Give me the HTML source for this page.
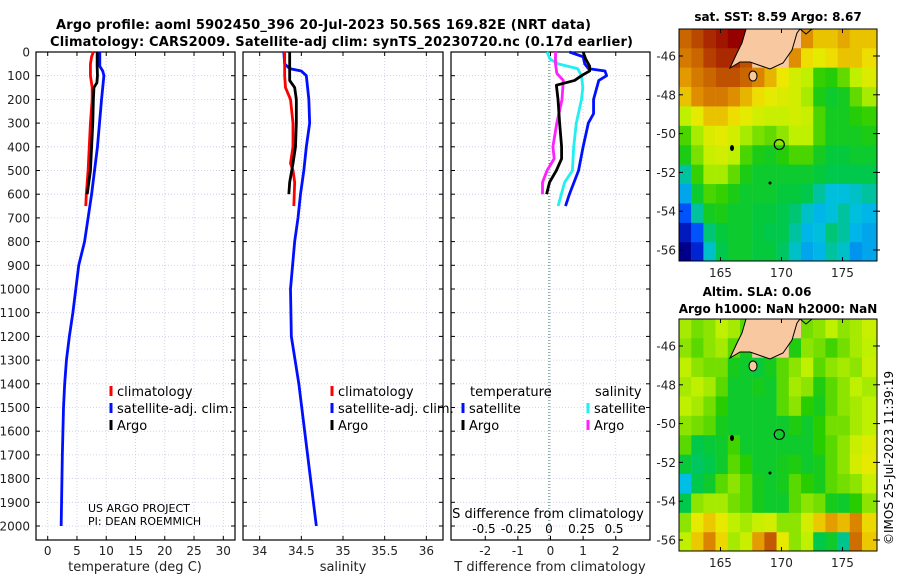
<!DOCTYPE html>
<html><head><meta charset="utf-8"><style>
body{margin:0;background:#fff}
svg{display:block;font-family:"DejaVu Sans","Liberation Sans",sans-serif}
</style></head><body>
<svg id="fig" width="900" height="580" viewBox="0 0 900 580" xmlns="http://www.w3.org/2000/svg">
<rect width="900" height="580" fill="#fff"/>
<text x="56" y="29" font-size="13" font-weight="bold" textLength="535">Argo profile: aoml 5902450_396 20-Jul-2023 50.56S 169.82E (NRT data)</text>
<text x="50" y="46" font-size="13" font-weight="bold" textLength="583">Climatology: CARS2009. Satellite-adj clim: synTS_20230720.nc (0.17d earlier)</text>
<g id="g1"></g>
<g id="g2"></g>
<g id="g3"></g>
<g id="m1"></g>
<g id="m2"></g>
<text x="778" y="21" font-size="12" font-weight="bold" text-anchor="middle">sat. SST: 8.59 Argo: 8.67</text>
<text x="757" y="296" font-size="12" font-weight="bold" text-anchor="middle">Altim. SLA: 0.06</text>
<text x="778" y="313" font-size="12" font-weight="bold" text-anchor="middle">Argo h1000: NaN h2000: NaN</text>
<text transform="translate(893,545) rotate(-90)" font-size="12">©IMOS 25-Jul-2023 11:39:19</text>
</svg>
<script>
// ---------- profile data ----------
const climTdepth=[0,20,50,100,150,200,300,400,500,600,650];
const climT=[7.8,7.5,7.3,7.3,7.6,7.6,7.3,7.1,6.9,6.6,6.5];
const argoTdepth=[0,60,100,130,150,200,300,400,500,600];
const argoT=[8.45,8.45,8.5,8.4,7.9,7.8,7.7,7.5,7.3,6.75];
const satTdepth=[0,60,80,100,200,400,600,700,800,900,1000,1100,1200,1300,1400,1500,1700,2000];
const satT=[8.9,8.9,9.4,9.6,9.2,8.5,7.5,6.9,6.3,5.3,4.8,4.3,3.7,3.2,2.9,2.7,2.5,2.3];
const climSdepth=[0,100,150,200,300,400,470,500,550,650];
const climS=[34.30,34.30,34.31,34.37,34.40,34.40,34.37,34.40,34.42,34.41];
const argoSdepth=[0,100,120,150,200,300,400,470,550,600];
const argoS=[34.36,34.36,34.36,34.42,34.44,34.44,34.43,34.40,34.36,34.35];
const satSdepth=[0,50,70,80,100,200,300,400,500,600,700,800,1000,1200,1400,1600,1800,2000];
const satS=[34.29,34.30,34.36,34.50,34.56,34.59,34.60,34.56,34.53,34.49,34.46,34.42,34.37,34.38,34.47,34.54,34.61,34.68];
const dTsatDepth=[0,20,50,70,80,100,120,200,260,300,400,500,600,650];
const dTsat=[0.58,1.0,1.05,1.16,1.67,1.72,1.48,1.32,1.32,1.16,1.0,0.86,0.58,0.46];
const dTargoDepth=[0,30,60,80,100,120,140,200,300,400,450,500,550,600];
const dTargo=[1.0,1.08,1.2,1.2,0.95,0.74,0.18,0.23,0.28,0.34,0.34,0.18,-0.03,-0.12];
const dSsatDepth=[0,30,50,70,100,150,200,300,400,500,550,650];
const dSsat=[-0.015,0.008,0.07,0.22,0.25,0.26,0.25,0.21,0.19,0.18,0.12,0.07];
const dSargoDepth=[0,50,90,120,200,300,400,450,500,550,600];
const dSargo=[0.05,0.05,0.06,0.11,0.10,0.06,0.03,0.04,-0.015,-0.05,-0.05];
const depthTicks=[0,100,200,300,400,500,600,700,800,900,1000,1100,1200,1300,1400,1500,1600,1700,1800,1900,2000];
const tTicks=[0,5,10,15,20,25,30];
const sTicks=[34,34.5,35,35.5,36];
const sTickLabels=["34","34.5","35","35.5","36"];
const dTTicks=[-2,-1,0,1,2];
const dSTicks=[-0.5,-0.25,0,0.25,0.5];
const dSTickLabels=["-0.5","-0.25","0","0.25","0.5"];
// ---------- map data ----------
const mapLons=[161.6,162.6,163.6,164.6,165.6,166.6,167.6,168.6,169.6,170.6,171.6,172.6,173.6,174.6,175.6,176.6];
const mapLats=[-44.6,-45.6,-46.6,-47.6,-48.6,-49.6,-50.6,-51.6,-52.6,-53.6,-54.6,-55.6];
const sst=[
[11,11.3,11.6,11.8,12,12,null,null,null,null,10.6,10.2,10.2,10.4,10.2,10.2],
[10.8,11,11.4,11.6,11.6,11.2,null,null,null,10.6,10,9.8,10,10.2,10.2,10],
[10.5,10.8,11,11.2,11.2,11,10.7,10.3,9.9,9.6,9.4,8.8,8.7,9,9.4,9.7],
[10.2,10.6,10.8,10.8,10.6,10.3,10,9.8,9.7,9.6,9.3,8.6,8.4,8.5,9,9.3],
[9.4,9.8,10.2,10.2,10,9.8,9.6,9.5,9.5,9.6,9.5,8.9,8.5,8.5,8.7,8.8],
[8.9,9.3,9.7,9.8,9.6,9.3,9.1,9,9.2,9.4,9.4,8.9,8.5,8.5,8.5,8.6],
[8.6,9.1,9.5,9.6,9.4,8.9,8.6,8.5,8.7,8.9,8.9,8.5,8.3,8.3,8.4,8.4],
[7.8,8.8,9.3,9.3,9,8.6,8.4,8.4,8.4,8.4,8.4,8.3,8.2,8.2,8.2,8.2],
[7.3,8.4,8.9,8.8,8.6,8.4,8.4,8.4,8.3,8.3,8.2,7.8,7.5,7.5,7.6,7.8],
[6.8,7.8,8.5,8.6,8.4,8.4,8.3,8.3,8.2,8,7.6,7.4,7.5,7.8,7.5,7.4],
[6,6.8,8,8.3,8.4,8.4,8.3,8.2,8.2,7.8,7.4,7.5,8,7.8,7.4,7.3],
[5.5,6.2,7.6,8.2,8.4,8.4,8.3,8.3,8.1,7.6,7.3,7.4,7.8,7.6,7.2,7.3]];
const sla=[
[.05,.03,.04,.06,.05,.02,null,null,null,null,.03,.04,.06,.04,.05,.07],
[.04,.02,.04,.05,.02,-.02,null,null,null,-.01,.04,.03,.01,.03,.05,.06],
[.06,.04,.03,.03,-.02,-.03,-.04,-.02,.02,.04,.06,.02,.04,.05,.04,.07],
[.05,.06,.05,.02,-.03,-.03,-.02,-.03,.02,.05,.04,-.01,.02,.04,.06,.05],
[.06,.05,.03,0,-.03,-.03,-.03,-.03,.02,.04,0,-.02,.02,.04,.05,.06],
[.04,.03,.02,-.02,-.03,-.03,-.03,-.03,-.03,-.01,-.03,0,.03,.03,.05,.06],
[.02,-.05,-.04,-.03,.01,-.03,-.03,-.03,-.03,-.03,-.03,0,.02,.04,.07,.09],
[-.04,-.06,-.05,-.03,.02,0,-.03,-.03,-.02,-.01,-.03,-.02,.02,.04,.08,.1],
[-.12,-.05,-.03,.02,.04,.02,-.02,-.03,-.02,.02,0,-.02,.02,.03,.04,.07],
[-.05,.04,.05,.05,.03,.02,-.02,-.03,-.03,.02,.04,.03,-.02,-.03,0,.04],
[.04,.1,.13,.1,.06,.05,.07,.08,.04,.04,.08,.13,.16,.14,.18,.12],
[.06,.13,.18,.12,.05,.07,.16,.22,.1,.04,.06,-.05,-.03,-.08,.2,.13]];
const lonTicks=[165,170,175];
const latTicks=[-46,-48,-50,-52,-54,-56];
const argoLon=169.82, argoLat=-50.56;

const NS="http://www.w3.org/2000/svg";
function mk(tag,attrs,parent,txt){const e=document.createElementNS(NS,tag);for(const k in attrs)e.setAttribute(k,attrs[k]);if(txt!==undefined)e.textContent=txt;parent.appendChild(e);return e;}

const Y0=52, DY=0.237;
const yD=d=>Y0+d*DY;
const PT=52, PB=540;

function panel(g,x0,x1,xmin,xmax,ticks,labels){
  const xs=v=>x0+(v-xmin)/(xmax-xmin)*(x1-x0);
  depthTicks.forEach(d=>{const l=mk('line',{x1:x0,x2:x1,y1:yD(d),y2:yD(d),stroke:'#c8c8e8','stroke-width':0.8,'stroke-dasharray':'1,2'},g);
    
    });
  ticks.forEach((v,i)=>{const l=mk('line',{x1:xs(v),x2:xs(v),y1:PT,y2:PB,stroke:'#c8c8e8','stroke-width':0.8,'stroke-dasharray':'1,2'},g);
    
    
    const t=mk('text',{x:xs(v),y:555,'font-size':12,'text-anchor':'middle',fill:'#222'},g,labels[i]);
    
    
    mk('line',{x1:xs(v),x2:xs(v),y1:PB,y2:PB-4,stroke:'#000'},g);
    mk('line',{x1:xs(v),x2:xs(v),y1:PT,y2:PT+4,stroke:'#000'},g);
  });
  depthTicks.forEach(d=>{mk('line',{x1:x0,x2:x0+4,y1:yD(d),y2:yD(d),stroke:'#000'},g);mk('line',{x1:x1-4,x2:x1,y1:yD(d),y2:yD(d),stroke:'#000'},g);});
  const r=mk('rect',{x:x0,y:PT,width:x1-x0,height:PB-PT,fill:'none',stroke:'#000','stroke-width':1.2},g);
  
  
  return xs;
}
function line(g,xs,vals,deps,col,name){
  const p=mk('polyline',{points:vals.map((v,i)=>xs(v)+','+yD(deps[i])).join(' '),fill:'none',stroke:col,'stroke-width':2.8,'stroke-linejoin':'round'},g);
  
  
}
function legend(g,x,y,col,label){
  mk('line',{x1:x,x2:x,y1:y-6,y2:y+4,stroke:col,'stroke-width':3},g);
  const t=mk('text',{x:x+6,y:y+4,'font-size':13},g,label);
  
  
}
const g1=document.getElementById('g1'),g2=document.getElementById('g2'),g3=document.getElementById('g3');
depthTicks.forEach(d=>{const t=mk('text',{x:30,y:yD(d)+4.5,'font-size':12,'text-anchor':'end',fill:'#222'},g1,String(d));
  
  });
const xs1=panel(g1,36,235,-2,32,tTicks,tTicks.map(String));
line(g1,xs1,satT,satTdepth,'#0010ff','sat-temperature-line');
line(g1,xs1,climT,climTdepth,'#ff0000','clim-temperature-line');
line(g1,xs1,argoT,argoTdepth,'#000','argo-temperature-line');
legend(g1,111,392,'#ff0000','climatology');legend(g1,111,409,'#0010ff','satellite-adj. clim.');legend(g1,111,426,'#000','Argo');
mk('text',{x:88,y:512,'font-size':11},g1,'US ARGO PROJECT');mk('text',{x:88,y:525,'font-size':11},g1,'PI: DEAN ROEMMICH');
mk('text',{x:135,y:571,'font-size':13,'text-anchor':'middle',fill:'#222'},g1,'temperature (deg C)');

const xs2=panel(g2,243,443,33.8,36.2,sTicks,sTickLabels);
line(g2,xs2,satS,satSdepth,'#0010ff','sat-salinity-line');
line(g2,xs2,climS,climSdepth,'#ff0000','clim-salinity-line');
line(g2,xs2,argoS,argoSdepth,'#000','argo-salinity-line');
legend(g2,332,392,'#ff0000','climatology');legend(g2,332,409,'#0010ff','satellite-adj. clim.');legend(g2,332,426,'#000','Argo');
mk('text',{x:343,y:571,'font-size':13,'text-anchor':'middle',fill:'#222'},g2,'salinity');

const xs3=panel(g3,451,650,-3.05,3.05,dTTicks,dTTicks.map(String));
const xsS=v=>549+v*130;
mk('line',{x1:549,x2:549,y1:PT,y2:PB,stroke:'#264','stroke-width':1,'stroke-dasharray':'1,2'},g3);
line(g3,xs3,dTsat,dTsatDepth,'#0010ff','sat-temp-diff-line');
line(g3,xsS,dSsat,dSsatDepth,'#20f0f0','sat-sal-diff-line');
line(g3,xsS,dSargo,dSargoDepth,'#ff20ff','argo-sal-diff-line');
line(g3,xs3,dTargo,dTargoDepth,'#000','argo-temp-diff-line');
dSTicks.forEach((v,i)=>{const t=mk('text',{x:xsS(v),y:533,'font-size':12,'text-anchor':'middle'},g3,dSTickLabels[i]);
  
  });
mk('text',{x:548,y:518,'font-size':13,'text-anchor':'middle'},g3,'S difference from climatology');
mk('text',{x:470,y:396,'font-size':13},g3,'temperature');mk('text',{x:595,y:396,'font-size':13},g3,'salinity');
legend(g3,463,409,'#0010ff','satellite');legend(g3,463,426,'#000','Argo');
legend(g3,588,409,'#20f0f0','satellite');legend(g3,588,426,'#ff20ff','Argo');
mk('text',{x:550,y:571,'font-size':13,'text-anchor':'middle',fill:'#222'},g3,'T difference from climatology');

// ---------- maps ----------
const stops=[[0,[0,0,140]],[0.18,[0,60,255]],[0.3,[0,190,230]],[0.42,[0,200,70]],[0.5,[40,205,0]],[0.6,[190,240,0]],[0.68,[240,232,0]],[0.78,[225,145,0]],[0.88,[190,80,0]],[1,[150,0,0]]];
function cmap(t){t=Math.max(0,Math.min(1,t));for(let i=1;i<stops.length;i++){if(t<=stops[i][0]){const a=stops[i-1],b=stops[i],f=(t-a[0])/(b[0]-a[0]);return 'rgb('+a[1].map((c,k)=>Math.round(c+(b[1][k]-c)*f)).join(',')+')';}}return 'rgb(150,0,0)';}
function drawMap(g,top,grid,tfn){
  const L=679,R=877,B=top+232;
  const xm=lon=>L+(lon-161.6)*12.2, ym=lat=>top+27+(-46-lat)*19.4;
  grid.forEach((row,i)=>row.forEach((v,j)=>{
    const x=xm(mapLons[j]),y=ym(mapLats[i]);
    const w=j==row.length-1?R-x:12.4, h=i==grid.length-1?B-y:19.8;
    const c=mk('rect',{x:x,y:y,width:w,height:h,fill:v===null?'#f8c8a0':cmap(tfn(v))},g);
    
    
  }));
  const o=top-29;
  const land=mk('path',{d:`M746,${29+o} L742,${43+o} L737,${53+o} L730,${68+o} L740,${62+o} L750,${62+o} L770,${69+o} L783,${63+o} L792,${50+o} L797,${33+o} L800,${29+o} Z`,fill:'#f8c8a0',stroke:'#000','stroke-width':1},g);
  
  
  mk('path',{d:`M800,${29+o} L806,${34+o} L812,${29+o}`,fill:'none',stroke:'#000','stroke-width':1},g);
  mk('ellipse',{cx:753,cy:76+o,rx:4,ry:5,fill:'#f8c8a0',stroke:'#000','stroke-width':1},g);
  mk('ellipse',{cx:732,cy:148+o,rx:2,ry:3,fill:'#000'},g);
  mk('ellipse',{cx:770,cy:183+o,rx:1.5,ry:1.5,fill:'#000'},g);
  const c=mk('circle',{cx:xm(argoLon),cy:ym(argoLat),r:5,fill:'none',stroke:'#000','stroke-width':1.2},g);
  
  
  mk('rect',{x:L,y:top,width:R-L,height:B-top,fill:'none',stroke:'#000','stroke-width':1},g);
  lonTicks.forEach(v=>{mk('line',{x1:xm(v),x2:xm(v),y1:B,y2:B-4,stroke:'#000'},g);mk('line',{x1:xm(v),x2:xm(v),y1:top,y2:top+4,stroke:'#000'},g);
    const t=mk('text',{x:xm(v),y:B+16,'font-size':12,'text-anchor':'middle',fill:'#222'},g,String(v));
    
    });
  latTicks.forEach(v=>{mk('line',{x1:L,x2:L+4,y1:ym(v),y2:ym(v),stroke:'#000'},g);mk('line',{x1:R-4,x2:R+3,y1:ym(v),y2:ym(v),stroke:'#000'},g);
    const t=mk('text',{x:676,y:ym(v)+4.5,'font-size':12,'text-anchor':'end',fill:'#222'},g,String(v));
    
    });
}
drawMap(document.getElementById('m1'),29,sst,v=>(v-5.5)/6.5);
drawMap(document.getElementById('m2'),319,sla,v=>(v+0.3)/0.6);
</script>
</body></html>
